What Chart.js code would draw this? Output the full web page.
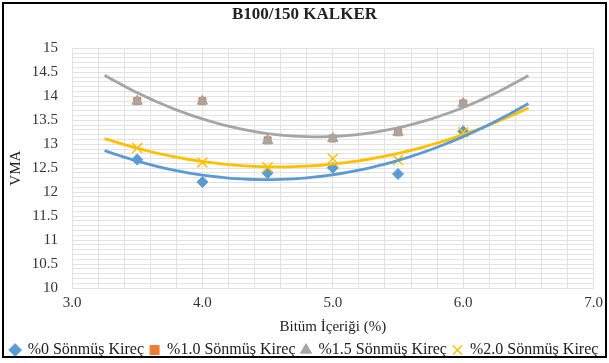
<!DOCTYPE html>
<html>
<head>
<meta charset="utf-8">
<script src="https://cdn.jsdelivr.net/npm/chart.js@4.4.1/dist/chart.umd.min.js"></script>
<style>
  html, body { margin: 0; padding: 0; background: #fff; }
  #wrap { position: relative; width: 609px; height: 363px; }
</style>
</head>
<body>
<div id="wrap"><canvas id="c" width="609" height="363"></canvas></div>
<script>
// ---- data ----
const chartTitle = "B100/150 KALKER";
const xTitle = "Bitüm İçeriği (%)";
const yTitle = "VMA";
const bitumen = [3.5, 4.0, 4.5, 5.0, 5.5, 6.0];
const seriesNames = ["%0 Sönmüş Kireç", "%1.0 Sönmüş Kireç", "%1.5 Sönmüş Kireç", "%2.0 Sönmüş Kireç"];
const vma0  = [12.68, 12.21, 12.40, 12.51, 12.38, 13.27];
const vma10 = [13.90, 13.90, 13.08, 13.12, 13.25, 13.85];
const vma15 = [13.90, 13.90, 13.08, 13.12, 13.25, 13.85];
const vma20 = [12.92, 12.62, 12.52, 12.70, 12.67, 13.25];
const trendFrom = 3.25, trendTo = 6.5;   // Excel trendline forecast range
const xMin = 3, xMax = 7, yMin = 10, yMax = 15;

// ---- 2nd order polynomial least-squares trendline (as Excel does) ----
function polyFit2(xs, ys) {
  let n = xs.length, sx=0, sx2=0, sx3=0, sx4=0, sy=0, sxy=0, sx2y=0;
  for (let i = 0; i < n; i++) {
    const x = xs[i], y = ys[i];
    sx += x; sx2 += x*x; sx3 += x*x*x; sx4 += x*x*x*x;
    sy += y; sxy += x*y; sx2y += x*x*y;
  }
  const M = [[n, sx, sx2, sy], [sx, sx2, sx3, sxy], [sx2, sx3, sx4, sx2y]];
  for (let i = 0; i < 3; i++) {
    for (let k = i + 1; k < 3; k++) {
      const f = M[k][i] / M[i][i];
      for (let j = i; j < 4; j++) M[k][j] -= f * M[i][j];
    }
  }
  const c = [0, 0, 0];
  for (let i = 2; i >= 0; i--) {
    let s = M[i][3];
    for (let j = i + 1; j < 3; j++) s -= M[i][j] * c[j];
    c[i] = s / M[i][i];
  }
  return c;
}
function trend(ys) {
  const c = polyFit2(bitumen, ys);
  const pts = [];
  const steps = 65;
  for (let i = 0; i <= steps; i++) {
    const x = trendFrom + (trendTo - trendFrom) * i / steps;
    pts.push({ x: x, y: c[0] + c[1]*x + c[2]*x*x });
  }
  return pts;
}
const toPts = ys => bitumen.map((x, i) => ({ x: x, y: ys[i] }));

const BLUE = "#5B9BD5", ORANGE = "#ED7D31", GRAY = "#A5A5A5", YELLOW = "#FFC000";
const serif = "'Liberation Serif', 'Times New Roman', serif";
const PLOT_LEFT = 72, PLOT_BOTTOM = 288, LAYOUT_BOTTOM = -5;

const frame = {
  id: 'frame',
  beforeDraw(chart) {
    const ctx = chart.ctx;
    ctx.save(); ctx.fillStyle = '#fff'; ctx.fillRect(0, 0, chart.width, chart.height); ctx.restore();
  },
  afterDraw(chart) {
    const ctx = chart.ctx;
    ctx.save(); ctx.strokeStyle = '#000'; ctx.lineWidth = 2;
    ctx.strokeRect(3, 3, 603, 354);
    ctx.restore();
  }
};

function markerDs(label, ys, color, style, radius, order) {
  return {
    label: label, data: toPts(ys), showLine: false,
    pointStyle: style, pointRadius: radius, pointHoverRadius: radius,
    backgroundColor: color, borderColor: color,
    borderWidth: style === 'crossRot' ? 1.5 : 1, order: order
  };
}
function trendDs(ys, color) {
  return {
    label: '_trend', data: trend(ys), showLine: true, pointRadius: 0,
    borderColor: color, backgroundColor: color, borderWidth: 2.8, order: 0,
    tension: 0
  };
}

new Chart(document.getElementById('c'), {
  type: 'scatter',
  data: {
    datasets: [
      markerDs(seriesNames[0], vma0, BLUE, 'rectRot', 5.5, 4),
      markerDs(seriesNames[1], vma10, ORANGE, 'rect', 5, 3),
      markerDs(seriesNames[2], vma15, GRAY, 'triangle', 6, 2),
      markerDs(seriesNames[3], vma20, YELLOW, 'crossRot', 7, 1),
      trendDs(vma0, BLUE),
      trendDs(vma15, GRAY),
      trendDs(vma20, YELLOW)
    ]
  },
  options: {
    responsive: false, animation: false,
    layout: { padding: { left: 2, right: 2, top: 0, bottom: LAYOUT_BOTTOM } },
    plugins: {
      title: {
        display: true, text: chartTitle, color: '#222',
        font: { family: serif, size: 17, weight: 'bold' },
        padding: { top: 4, bottom: 24 }
      },
      legend: {
        position: 'bottom',
        labels: {
          filter: item => item.text !== '_trend',
          sort: (a, b) => a.datasetIndex - b.datasetIndex,
          usePointStyle: true, boxWidth: 9, boxHeight: 9, padding: 6,
          color: '#222', font: { family: serif, size: 16 }
        }
      },
      tooltip: { enabled: false }
    },
    scales: {
      x: {
        type: 'linear', min: xMin, max: xMax,
        grid: { color: '#e2e2e2', drawTicks: false },
        border: { display: false },
        ticks: {
          stepSize: 0.2, autoSkip: false, maxRotation: 0, padding: 6,
          color: '#333', font: { family: serif, size: 15 },
          callback: v => Math.abs(v - Math.round(v)) < 1e-6 ? v.toFixed(1) : ''
        },
        title: { display: true, text: xTitle, color: '#222', font: { family: serif, size: 15 }, padding: { top: 2, bottom: 0 } },
        afterFit: s => {
          const lg = s.chart.legend;
          const lh = lg && lg.height ? lg.height : 0;
          s.height = Math.max(10, 363 - LAYOUT_BOTTOM - lh - PLOT_BOTTOM);
        }
      },
      y: {
        type: 'linear', min: yMin, max: yMax,
        grid: { color: '#e2e2e2', drawTicks: false },
        border: { display: false },
        ticks: {
          stepSize: 0.1, autoSkip: false, padding: 14,
          color: '#333', font: { family: serif, size: 15 },
          callback: v => {
            const r = Math.round(v * 10) / 10;
            return Math.abs(r * 2 - Math.round(r * 2)) < 1e-6 ? String(r) : '';
          }
        },
        title: { display: true, text: yTitle, color: '#222', font: { family: serif, size: 15 }, padding: { top: 5, bottom: 0 } },
        afterFit: s => { s.width = PLOT_LEFT - 2; }
      }
    }
  },
  plugins: [frame]
});
</script>
</body>
</html>
